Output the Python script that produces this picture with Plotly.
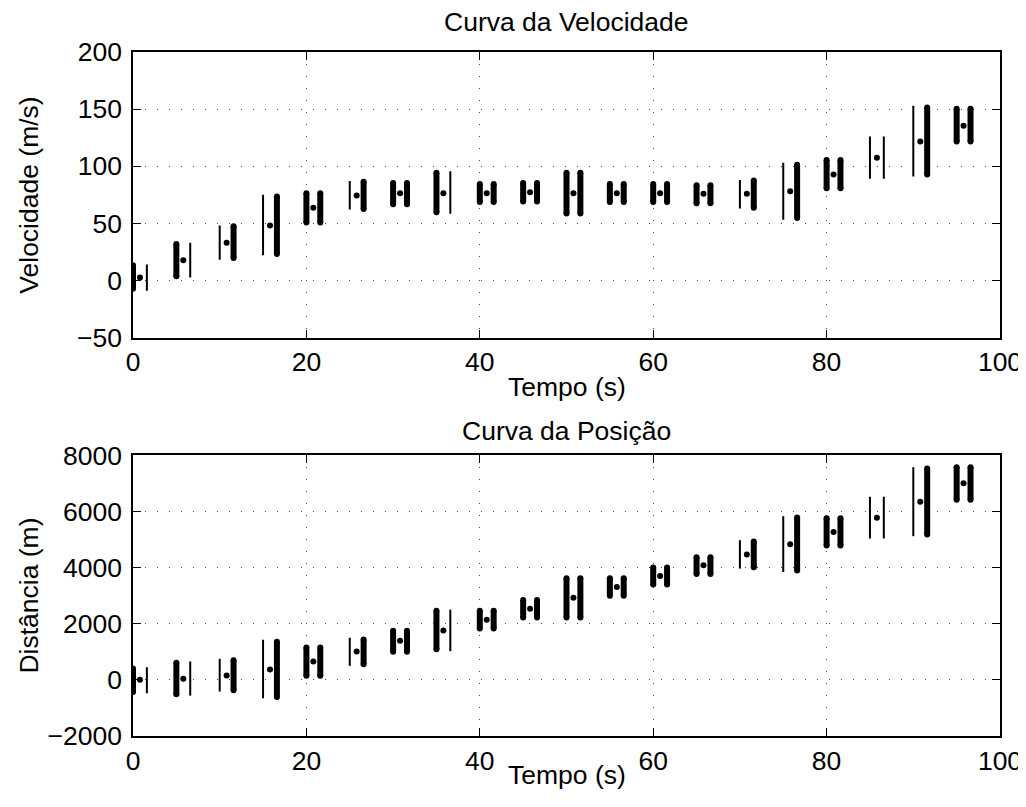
import plotly.graph_objects as go
from plotly.subplots import make_subplots

# ---- data ----
tempo = [0, 5, 10, 15, 20, 25, 30, 35, 40, 45, 50, 55, 60, 65, 70, 75, 80, 85, 90, 95]

vel_dot = [2.6, 17.7, 33, 48, 63.6, 74.4, 76.4, 76.4, 76.4, 77.2, 76.4, 76.4, 76.4, 75.8, 75.8, 78, 92.7, 107.5, 121.7, 135.4]
vel_left_hi = [16, 34.5, 48, 75, 79, 87, 88, 97, 87, 88, 97, 87, 87, 86, 88, 103, 108, 126, 153, 153]
vel_left_lo = [-10, 1, 18, 22, 48, 62, 64, 57, 66, 66.5, 56, 66, 66, 65, 63, 53, 78, 89, 91, 119]
vel_right_hi = [14, 33, 50, 76, 79, 89, 88, 95.6, 87, 88, 97, 87, 87, 86, 90, 104, 108, 126, 154, 153]
vel_right_lo = [-9, 2.6, 17, 20.6, 48, 60, 64, 58.4, 66, 66.5, 56, 66, 66, 65, 61, 52, 78, 89, 90, 119]

pos_dot = [0, 36, 154, 368, 654, 1011, 1393, 1761, 2143, 2536, 2929, 3307, 3700, 4082, 4464, 4832, 5271, 5771, 6343, 7000]
pos_left_hi = [511, 714, 750, 1429, 1261, 1500, 1857, 2571, 2571, 2950, 3725, 3725, 4107, 4475, 4975, 5832, 5868, 6521, 7571, 7680]
pos_left_lo = [-536, -621, -418, -657, 36, 500, 893, 986, 1725, 2118, 2118, 2893, 3286, 3664, 3964, 3843, 4679, 5036, 5118, 6307]
pos_right_hi = [450, 654, 807, 1464, 1261, 1546, 1857, 2500, 2571, 2950, 3725, 3725, 4107, 4475, 5036, 5893, 5868, 6521, 7632, 7680]
pos_right_lo = [-479, -561, -479, -714, 36, 450, 893, 1021, 1725, 2118, 2118, 2893, 3286, 3664, 3904, 3786, 4679, 5036, 5071, 6307]

left_thick = [1, 1, 0, 0, 1, 0, 1, 1, 1, 1, 1, 1, 1, 1, 0, 0, 1, 0, 0, 1]
right_thick = [0, 0, 1, 1, 1, 1, 1, 0, 1, 1, 1, 1, 1, 1, 1, 1, 1, 0, 1, 1]

vel_range = [-50, 200]
pos_range = [-2000, 8000]

DOT_OFF = 0.8
RIGHT_OFF = 1.6
FONT = "Liberation Sans, Arial, Helvetica, sans-serif"
FS = 26.5
# page body has an 8px margin, so the figure is offset by 8px
W, H = 1018, 791
M = dict(l=125, r=26, t=44, b=63)
DOM1 = [0.5826, 1.0]
DOM2 = [0.0, 0.4104]
THICK = 6


def segments(lo_l, hi_l, lo_r, hi_r, want_thick, cap):
    xs, ys = [], []
    for i, t in enumerate(tempo):
        if left_thick[i] == want_thick:
            xs += [t, t, None]
            ys += [lo_l[i] + cap, hi_l[i] - cap, None]
        if right_thick[i] == want_thick:
            xs += [t + RIGHT_OFF, t + RIGHT_OFF, None]
            ys += [lo_r[i] + cap, hi_r[i] - cap, None]
    return xs, ys


fig = make_subplots(rows=2, cols=1, vertical_spacing=0.0)

plot_h = H - M["t"] - M["b"]
for row, (dot, lh, ll, rh, rl, rng, dom) in enumerate(
        [(vel_dot, vel_left_hi, vel_left_lo, vel_right_hi, vel_right_lo, vel_range, DOM1),
         (pos_dot, pos_left_hi, pos_left_lo, pos_right_hi, pos_right_lo, pos_range, DOM2)], start=1):
    px_per_unit = plot_h * (dom[1] - dom[0]) / (rng[1] - rng[0])
    cap = (THICK / 2) / px_per_unit
    # thick bars with round ends
    xs, ys = segments(ll, lh, rl, rh, 1, cap)
    fig.add_trace(go.Scatter(x=xs, y=ys, mode="lines+markers",
                             line=dict(color="black", width=THICK),
                             marker=dict(color="black", size=THICK, line=dict(width=0)),
                             showlegend=False, hoverinfo="skip"), row=row, col=1)
    xs, ys = segments(ll, lh, rl, rh, 0, 0)
    fig.add_trace(go.Scatter(x=xs, y=ys, mode="lines",
                             line=dict(color="black", width=2),
                             showlegend=False, hoverinfo="skip"), row=row, col=1)
    fig.add_trace(go.Scatter(x=[t + DOT_OFF for t in tempo], y=dot, mode="markers",
                             marker=dict(color="black", size=6, line=dict(width=0)),
                             showlegend=False), row=row, col=1)

axis_common = dict(
    showline=True, linecolor="black", linewidth=1.5, mirror="ticks",
    ticks="inside", ticklen=8, tickwidth=1, tickcolor="black",
    showgrid=True, gridcolor="#444", gridwidth=1, griddash="1px,11px",
    zeroline=False, tickfont=dict(family=FONT, size=FS, color="black"),
    ticklabeloverflow="allow",
)

fig.update_xaxes(**axis_common, range=[0, 100], tickvals=[0, 20, 40, 60, 80, 100])
fig.update_yaxes(**axis_common, ticklabelstandoff=4)

fig.update_layout(
    width=W, height=H,
    margin=dict(**M, autoexpand=False),
    paper_bgcolor="white", plot_bgcolor="white",
    font=dict(family=FONT, size=FS, color="black"),
    xaxis=dict(domain=[0, 1]),
    yaxis=dict(domain=DOM1, range=vel_range, tickvals=[-50, 0, 50, 100, 150, 200]),
    xaxis2=dict(domain=[0, 1]),
    yaxis2=dict(domain=DOM2, range=pos_range,
                tickvals=[-2000, 0, 2000, 4000, 6000, 8000]),
)

ann = [
    dict(text="Curva da Velocidade", xref="x domain", yref="paper", x=0.5, y=1.0439),
    dict(text="Curva da Posição", xref="x2 domain", yref="paper", x=0.5, y=0.4459),
    dict(text="Tempo (s)", xref="x domain", yref="paper", x=0.5, y=0.5102),
    dict(text="Tempo (s)", xref="x2 domain", yref="paper", x=0.5, y=-0.057),
    dict(text="Velocidade (m/s)", xref="paper", yref="y domain", x=-0.12, y=0.5, textangle=-90),
    dict(text="Distância (m)", xref="paper", yref="y2 domain", x=-0.12, y=0.5, textangle=-90),
]
for a in ann:
    fig.add_annotation(showarrow=False, xanchor="center", yanchor="middle",
                       font=dict(family=FONT, size=FS, color="black"), **a)

fig.write_html("out.html")
